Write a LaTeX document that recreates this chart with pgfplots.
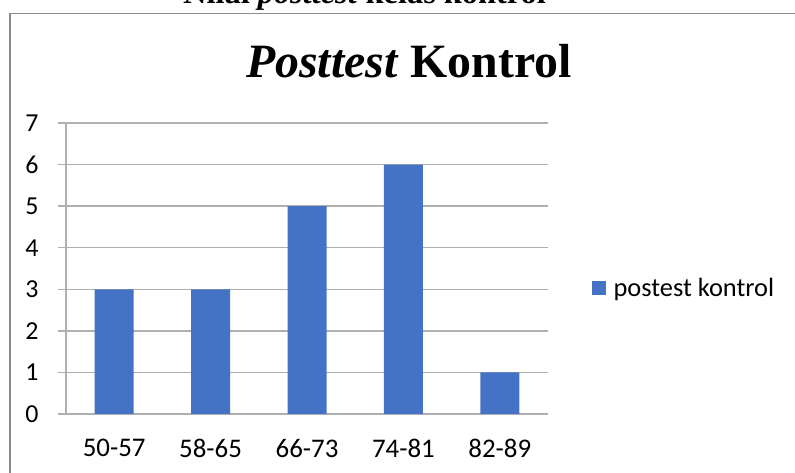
\documentclass[border=0pt]{standalone}
\usepackage{pgfplots}
\pgfplotsset{compat=1.18}
\usepackage{fontspec}
\setmainfont{Carlito}
\newfontfamily\timesfont{Liberation Serif}
\definecolor{barblue}{RGB}{68,114,196}
\definecolor{gridgray}{RGB}{175,175,175}
\definecolor{framegray}{RGB}{140,140,140}
\begin{document}
\begin{tikzpicture}[x=1bp,y=1bp]
\useasboundingbox (0,0) rectangle (795,473);
\fill[white] (0,0) rectangle (795,473);
\draw[framegray, line width=1.5bp] (10,-20) -- (10,459.5) -- (820,459.5);
\node[anchor=base west, inner sep=0pt, font=\timesfont\bfseries\fontsize{32.5}{35}\selectfont] at (183,469) {Nilai \textit{posttest} kelas kontrol};
\node[anchor=base, inner sep=0pt, font=\timesfont\fontsize{48}{52}\selectfont] at (409,395) {\textbf{\textit{Posttest}} \textbf{Kontrol}};
\begin{axis}[
  at={(66bp,59bp)}, anchor=south west,
  scale only axis, width=482bp, height=291bp,
  ybar, bar width=39bp,
  xmin=-0.5, xmax=4.5, ymin=0, ymax=7,
  axis x line*=bottom, axis y line*=left,
  axis line style={gridgray, line width=1.3bp, -},
  xtick={0,1,2,3,4},
  xticklabels={50-57,58-65,66-73,74-81,82-89},
  major x tick style={draw=none},
  extra x ticks={-0.5,0.5,1.5,2.5,3.5,4.5},
  extra x tick labels={},
  extra x tick style={tick style={gridgray, line width=1.3bp}, major tick length=8bp, tick align=outside, grid=none},
  ytick={0,1,...,7},
  ymajorgrids,
  grid style={gridgray, line width=1.3bp},
  ytick style={gridgray, line width=1.3bp},
  major tick length=8bp, tick align=outside,
  /pgf/number format/assume math mode=true,
  yticklabel style={font=\fontsize{26}{28}\selectfont, text=black, xshift=-16bp},
  xticklabel style={font=\fontsize{27}{30}\selectfont, text=black, yshift=-14bp},
  legend style={draw=none, at={(1.09,0.433)}, anchor=west, font=\fontsize{26.5}{29}\selectfont, inner sep=0pt},
  legend image code/.code={\fill[barblue] (0bp,-7bp) rectangle (14bp,7bp);},
]
\addplot[fill=barblue, draw=none] coordinates {(0,3) (1,3) (2,5) (3,6) (4,1)};
\addlegendentry{\hspace{6bp}postest kontrol}
\end{axis}
\end{tikzpicture}
\end{document}
